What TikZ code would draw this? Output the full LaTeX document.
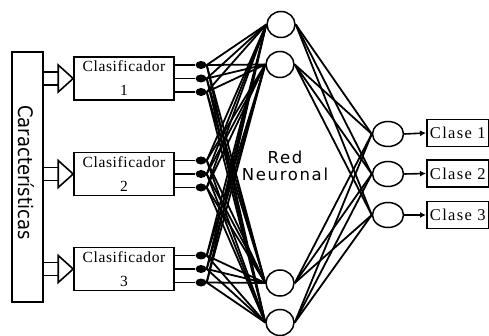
\documentclass[tikz,border=0pt]{standalone}
\usepackage{fontspec}
\setmainfont{Liberation Serif}
\newfontfamily\dvs{DejaVu Sans}
\usetikzlibrary{arrows.meta,calc,shapes.geometric}
\begin{document}
\begin{tikzpicture}[x=1pt,y=-1pt,
  conn/.style={line width=1.8pt},
  boxline/.style={line width=1.6pt},
  clbox/.style={draw,boxline,minimum width=100pt,minimum height=43pt,inner sep=0pt,align=center,
    font=\fontsize{15.5}{24}\selectfont\addfontfeature{LetterSpace=4}},
  dot/.style={fill=black,ellipse,minimum width=11pt,minimum height=8pt,inner sep=0pt},
  hid/.style={draw,line width=1.5pt,ellipse,minimum width=28pt,minimum height=26pt,inner sep=0pt},
  outn/.style={draw,line width=1.5pt,ellipse,minimum width=31pt,minimum height=25pt,inner sep=0pt},
  clase/.style={draw,boxline,minimum width=62pt,minimum height=27pt,inner sep=2pt,anchor=west,
    font=\fontsize{16.5}{18}\selectfont\addfontfeature{LetterSpace=8}},
  tri/.style={boxline,line join=miter}]
\useasboundingbox (0,0) rectangle (489,336);

% Caracteristicas box
\node[draw,boxline,minimum width=31pt,minimum height=250pt,inner sep=0pt] (car) at (27.5,177) {};
\node[inner sep=0pt] (cartext) at (26.5,172.5)
  {\rotatebox{-90}{\scalebox{0.9}[1]{\dvs\fontsize{20}{22}\selectfont Características}}};

% Classifier boxes
\node[clbox] (c1) at (124,78.5) {Clasificador\\1};
\node[clbox] (c2) at (124,174) {Clasificador\\2};
\node[clbox] (c3) at (124,269) {Clasificador\\3};

% input arrows
\foreach \i in {1,2,3}{
  \draw[boxline] ($(car.east|-c\i.west)+(0,-6.5)$) -- ($(c\i.west)+(-15,-6.5)$);
  \draw[boxline] ($(car.east|-c\i.west)+(0,6.5)$) -- ($(c\i.west)+(-15,6.5)$);
  \draw[tri] ($(c\i.west)+(-15,-13.5)$) -- (c\i.west) -- ($(c\i.west)+(-15,13.5)$) -- cycle;
}

% dots
\foreach \i/\cy in {1/78.5,2/174,3/269}{
  \foreach \j/\dy in {1/-13.5,2/0,3/13.5}{
    \node[dot] (d\i\j) at (201,\cy+\dy) {};
    \draw[boxline] (c\i.east|-d\i\j) -- (d\i\j);
  }
}

% hidden nodes
\node[hid] (h1) at (281,24.5) {};
\node[hid] (h2) at (280,64.5) {};
\node[hid] (h3) at (280,283) {};
\node[hid] (h4) at (280,322.5) {};

% output nodes
\node[outn] (o1) at (388,134) {};
\node[outn] (o2) at (388,174) {};
\node[outn] (o3) at (388,215) {};

% class boxes
\node[clase] (k1) at (426,133) {Clase 1};
\node[clase] (k2) at (426,173.5) {Clase 2};
\node[clase] (k3) at (426,215) {Clase 3};

% connections
\foreach \i in {1,2,3}{
  \foreach \j in {1,2,3}{
    \foreach \h in {1,2,3,4}{
      \draw[conn] (d\i\j.east) -- (h\h.west);
    }
  }
}
\foreach \h in {1,2,3,4}{
  \foreach \o in {1,2,3}{
    \draw[conn] (h\h.east) -- (o\o.west);
  }
}
\foreach \o in {1,2,3}{
  \draw[boxline,-{Latex[length=6pt,width=6pt]}] (o\o.east) -- (k\o.west);
}

% label
\node[font=\dvs\fontsize{16.5}{16.7}\selectfont\addfontfeature{LetterSpace=10},align=center,inner sep=0pt] (rn) at (285,166) {Red\\Neuronal};
\end{tikzpicture}
\end{document}
